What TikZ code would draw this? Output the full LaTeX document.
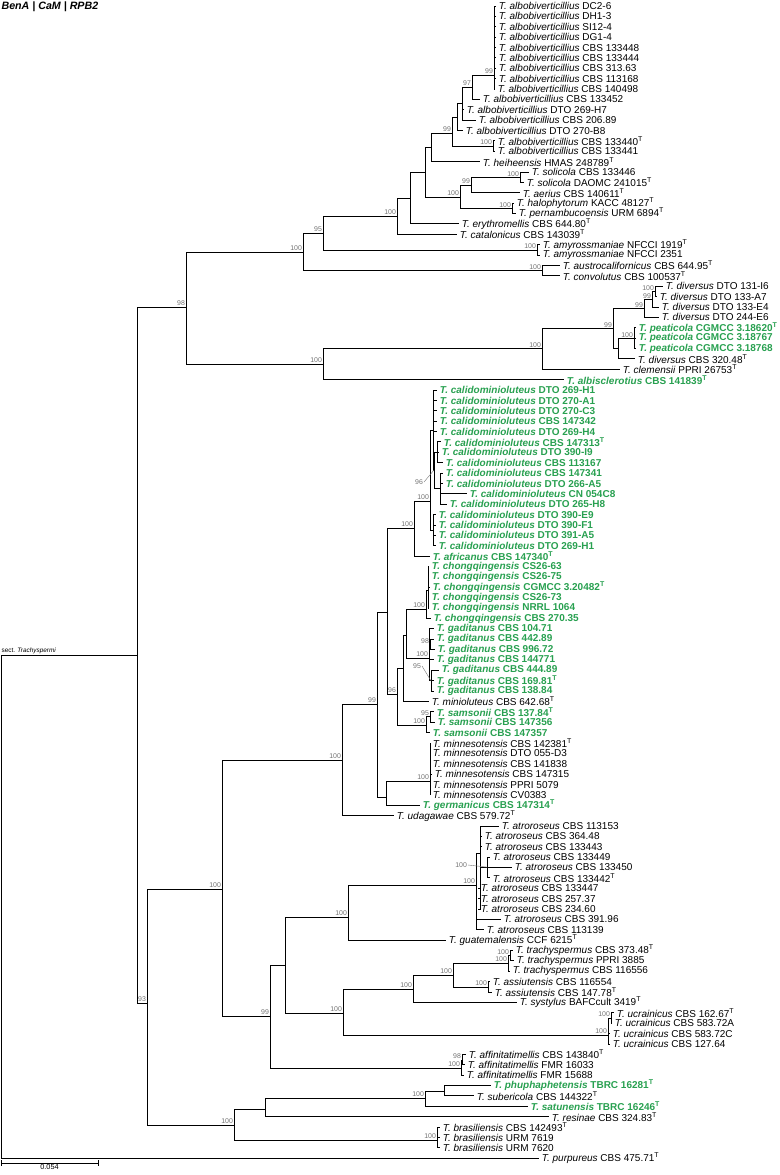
\documentclass[tikz,border=0pt]{standalone}
\usepackage{fontspec}
\setmainfont{Liberation Sans}
\usetikzlibrary{positioning,calc}
\definecolor{newgreen}{RGB}{40,160,80}
\definecolor{bsgray}{RGB}{115,115,115}
\newcommand{\tsp}[1]{\textit{T. #1}}
\newcommand{\nsp}[2]{\textcolor{newgreen}{\textbf{\textit{T. #1} #2}}}
\newcommand{\typ}{\textsuperscript{T}}
\newcommand{\clade}[2]{\foreach \c in {#2} \draw[br] (#1) |- (\c);}
\tikzset{
  br/.style={line width=0.75pt},
  leaf/.style={anchor=west, inner xsep=2pt, inner ysep=0pt, font=\fontsize{7.5}{8}\selectfont},
  bs/.style={anchor=south east, inner sep=0.6pt, text=bsgray, font=\fontsize{5.2}{6}\selectfont}
}

\begin{document}
\begin{tikzpicture}[x=0.75pt, y=-0.75pt]
    \useasboundingbox (0,0) rectangle (780,1175);
    \node[anchor=north west, inner sep=1pt, font=\bfseries\itshape\fontsize{8}{9}\selectfont] (title) at (0,0) {BenA | CaM | RPB2};
    % leaves
    \foreach \i/\tx/\lab in {
      1/496/{\tsp{albobiverticillius} DC2-6},
      2/496/{\tsp{albobiverticillius} DH1-3},
      3/496/{\tsp{albobiverticillius} SI12-4},
      4/496/{\tsp{albobiverticillius} DG1-4},
      5/496/{\tsp{albobiverticillius} CBS 133448},
      6/496/{\tsp{albobiverticillius} CBS 133444},
      7/496/{\tsp{albobiverticillius} CBS 313.63},
      8/496/{\tsp{albobiverticillius} CBS 113168},
      9/495/{\tsp{albobiverticillius} CBS 140498},
      10/480/{\tsp{albobiverticillius} CBS 133452},
      11/464/{\tsp{albobiverticillius} DTO 269-H7},
      12/476/{\tsp{albobiverticillius} CBS 206.89},
      13/463/{\tsp{albobiverticillius} DTO 270-B8},
      14/495/{\tsp{albobiverticillius} CBS 133440\typ},
      15/495/{\tsp{albobiverticillius} CBS 133441},
      16/480/{\tsp{heiheensis} HMAS 248789\typ},
      17/529/{\tsp{solicola} CBS 133446},
      18/524/{\tsp{solicola} DAOMC 241015\typ},
      19/520/{\tsp{aerius} CBS 140611\typ},
      20/514/{\tsp{halophytorum} KACC 48127\typ},
      21/516/{\tsp{pernambucoensis} URM 6894\typ},
      22/459/{\tsp{erythromellis} CBS 644.80\typ},
      23/457/{\tsp{catalonicus} CBS 143039\typ},
      24/540/{\tsp{amyrossmaniae} NFCCI 1919\typ},
      25/540/{\tsp{amyrossmaniae} NFCCI 2351},
      26/560/{\tsp{austrocalifornicus} CBS 644.95\typ},
      27/560/{\tsp{convolutus} CBS 100537\typ},
      28/663/{\tsp{diversus} DTO 131-I6},
      29/657/{\tsp{diversus} DTO 133-A7},
      30/659/{\tsp{diversus} DTO 133-E4},
      31/659/{\tsp{diversus} DTO 244-E6},
      32/636/{\nsp{peaticola}{CGMCC 3.18620\typ}},
      33/636/{\nsp{peaticola}{CGMCC 3.18767}},
      34/636/{\nsp{peaticola}{CGMCC 3.18768}},
      35/635/{\tsp{diversus} CBS 320.48\typ},
      36/620/{\tsp{clemensii} PPRI 26753\typ},
      37/564/{\nsp{albisclerotius}{CBS 141839\typ}},
      38/437/{\nsp{calidominioluteus}{DTO 269-H1}},
      39/437/{\nsp{calidominioluteus}{DTO 270-A1}},
      40/437/{\nsp{calidominioluteus}{DTO 270-C3}},
      41/437/{\nsp{calidominioluteus}{CBS 147342}},
      42/437/{\nsp{calidominioluteus}{DTO 269-H4}},
      43/441/{\nsp{calidominioluteus}{CBS 147313\typ}},
      44/439/{\nsp{calidominioluteus}{DTO 390-I9}},
      45/443/{\nsp{calidominioluteus}{CBS 113167}},
      46/443/{\nsp{calidominioluteus}{CBS 147341}},
      47/443/{\nsp{calidominioluteus}{DTO 266-A5}},
      48/467/{\nsp{calidominioluteus}{CN 054C8}},
      49/447/{\nsp{calidominioluteus}{DTO 265-H8}},
      50/436/{\nsp{calidominioluteus}{DTO 390-E9}},
      51/436/{\nsp{calidominioluteus}{DTO 390-F1}},
      52/436/{\nsp{calidominioluteus}{DTO 391-A5}},
      53/436/{\nsp{calidominioluteus}{DTO 269-H1}},
      54/430/{\nsp{africanus}{CBS 147340\typ}},
      55/429/{\nsp{chongqingensis}{CS26-63}},
      56/429/{\nsp{chongqingensis}{CS26-75}},
      57/430/{\nsp{chongqingensis}{CGMCC 3.20482\typ}},
      58/429/{\nsp{chongqingensis}{CS26-73}},
      59/429/{\nsp{chongqingensis}{NRRL 1064}},
      60/431/{\nsp{chongqingensis}{CBS 270.35}},
      61/434/{\nsp{gaditanus}{CBS 104.71}},
      62/434/{\nsp{gaditanus}{CBS 442.89}},
      63/435/{\nsp{gaditanus}{CBS 996.72}},
      64/434/{\nsp{gaditanus}{CBS 144771}},
      65/439/{\nsp{gaditanus}{CBS 444.89}},
      66/434/{\nsp{gaditanus}{CBS 169.81\typ}},
      67/434/{\nsp{gaditanus}{CBS 138.84}},
      68/429/{\tsp{minioluteus} CBS 642.68\typ},
      69/434/{\nsp{samsonii}{CBS 137.84\typ}},
      70/435/{\nsp{samsonii}{CBS 147356}},
      71/430/{\nsp{samsonii}{CBS 147357}},
      72/430/{\tsp{minnesotensis} CBS 142381\typ},
      73/430/{\tsp{minnesotensis} DTO 055-D3},
      74/430/{\tsp{minnesotensis} CBS 141838},
      75/432/{\tsp{minnesotensis} CBS 147315},
      76/430/{\tsp{minnesotensis} PPRI 5079},
      77/430/{\tsp{minnesotensis} CV0383},
      78/420/{\nsp{germanicus}{CBS 147314\typ}},
      79/394/{\tsp{udagawae} CBS 579.72\typ},
      80/499/{\tsp{atroroseus} CBS 113153},
      81/482/{\tsp{atroroseus} CBS 364.48},
      82/482/{\tsp{atroroseus} CBS 133443},
      83/490/{\tsp{atroroseus} CBS 133449},
      84/512/{\tsp{atroroseus} CBS 133450},
      85/490/{\tsp{atroroseus} CBS 133442\typ},
      86/478/{\tsp{atroroseus} CBS 133447},
      87/478/{\tsp{atroroseus} CBS 257.37},
      88/478/{\tsp{atroroseus} CBS 234.60},
      89/501/{\tsp{atroroseus} CBS 391.96},
      90/484/{\tsp{atroroseus} CBS 113139},
      91/446/{\tsp{guatemalensis} CCF 6215\typ},
      92/513/{\tsp{trachyspermus} CBS 373.48\typ},
      93/514/{\tsp{trachyspermus} PPRI 3885},
      94/510/{\tsp{trachyspermus} CBS 116556},
      95/490/{\tsp{assiutensis} CBS 116554},
      96/492/{\tsp{assiutensis} CBS 147.78\typ},
      97/517/{\tsp{systylus} BAFCcult 3419\typ},
      98/614/{\tsp{ucrainicus} CBS 162.67\typ},
      99/612/{\tsp{ucrainicus} CBS 583.72A},
      100/610/{\tsp{ucrainicus} CBS 583.72C},
      101/610/{\tsp{ucrainicus} CBS 127.64},
      102/466/{\tsp{affinitatimellis} CBS 143840\typ},
      103/465/{\tsp{affinitatimellis} FMR 16033},
      104/464/{\tsp{affinitatimellis} FMR 15688},
      105/491/{\nsp{phuphaphetensis}{TBRC 16281\typ}},
      106/474/{\tsp{subericola} CBS 144322\typ},
      107/528/{\nsp{satunensis}{TBRC 16246\typ}},
      108/549/{\tsp{resinae} CBS 324.83\typ},
      109/440/{\tsp{brasiliensis} CBS 142493\typ},
      110/440/{\tsp{brasiliensis} URM 7619},
      111/440/{\tsp{brasiliensis} URM 7620},
      112/539/{\tsp{purpureus} CBS 475.71\typ}}{
      \coordinate (L\i) at (\tx,{6+(\i-1)*10.38});
      \node[leaf] (t\i) at (L\i) {\lab};
    }
    % internal nodes, upper part
    \coordinate (a99) at (494,75);
    \coordinate (a97) at (472,87);
    \coordinate (aI) at (462,103);
    \coordinate (aG) at (457,117);
    \coordinate (aH) at (493,146);
    \coordinate (aF) at (452,133);
    \coordinate (aD) at (431,147);
    \coordinate (sK) at (520,177.3);
    \coordinate (sJ) at (471,185);
    \coordinate (sL) at (512,208.4);
    \coordinate (sE) at (460,197);
    \coordinate (aC) at (425,172);
    \coordinate (aB) at (410,198);
    \coordinate (aA) at (397,216);
    \coordinate (amy) at (537,250);
    \coordinate (aus) at (542,270.7);
    \coordinate (W) at (323,233);
    \coordinate (X) at (303,252);
    \coordinate (dv12) at (655,291.5);
    \coordinate (dv123) at (652,299.3);
    \coordinate (dv4) at (644,308.4);
    \coordinate (pea) at (634,338.2);
    \coordinate (pq) at (618,348.6);
    \coordinate (R) at (613,328.5);
    \coordinate (S) at (542,348.9);
    \coordinate (T) at (323,364);
    \coordinate (n98) at (186,307);
    % internal nodes, lower part
    \coordinate (c43) at (437,452.2);
    \coordinate (c46) at (440,488.6);
    \coordinate (c96) at (434,470);
    \coordinate (cTop) at (433,430);
    \coordinate (c50) at (433,530.2);
    \coordinate (cal) at (430,501);
    \coordinate (afr) at (414,528);
    \coordinate (chs) at (428,590);
    \coordinate (chq) at (426,609);
    \coordinate (g98) at (430,644.5);
    \coordinate (g95) at (431,680.8);
    \coordinate (gad) at (429,658);
    \coordinate (CG) at (406,635);
    \coordinate (M) at (403,668);
    \coordinate (s95) at (430,716.9);
    \coordinate (sam) at (426,725);
    \coordinate (N96) at (397,694);
    \coordinate (minn) at (430,781);
    \coordinate (O) at (386,797);
    \coordinate (Naf) at (387,612);
    \coordinate (P) at (377,704);
    \coordinate (Q) at (342,760);
    \coordinate (at100) at (487,867.1);
    \coordinate (atS) at (480,853);
    \coordinate (atro) at (476,885);
    \coordinate (AG) at (348,917);
    \coordinate (tr12) at (510,955.8);
    \coordinate (tr) at (508,963);
    \coordinate (as) at (488,987);
    \coordinate (TA) at (453,975);
    \coordinate (TAS) at (413,989);
    \coordinate (uk12) at (611,1018);
    \coordinate (uk) at (608,1035);
    \coordinate (TU) at (343,1013);
    \coordinate (AT) at (285,965);
    \coordinate (af12) at (462,1060);
    \coordinate (af) at (461,1068);
    \coordinate (N99) at (270,1016);
    \coordinate (N222) at (222,889);
    \coordinate (phs) at (444,1091);
    \coordinate (PS) at (425,1098);
    \coordinate (br) at (437,1140);
    \coordinate (PR) at (265,1109);
    \coordinate (BR2) at (234,1125);
    \coordinate (n93) at (147,1003);
    \coordinate (trach) at (137,655);
    \coordinate (root) at (1,907);
    % branches
    \clade{a99}{L1,L2,L3,L4,L5,L6,L7,L8,L9}
    \clade{a97}{a99,L10}
    \clade{aI}{a97,L11,L12}
    \clade{aG}{aI,L13}
    \clade{aH}{L14,L15}
    \clade{aF}{aG,aH}
    \clade{aD}{aF,L16}
    \clade{sK}{L17,L18}
    \clade{sJ}{sK,L19}
    \clade{sL}{L20,L21}
    \clade{sE}{sJ,sL}
    \clade{aC}{aD,sE}
    \clade{aB}{aC,L22}
    \clade{aA}{aB,L23}
    \clade{amy}{L24,L25}
    \clade{aus}{L26,L27}
    \clade{W}{aA,amy}
    \clade{X}{W,aus}
    \clade{dv12}{L28,L29}
    \clade{dv123}{dv12,L30}
    \clade{dv4}{dv123,L31}
    \clade{pea}{L32,L33,L34}
    \clade{pq}{pea,L35}
    \clade{R}{dv4,pq}
    \clade{S}{R,L36}
    \clade{T}{S,L37}
    \clade{n98}{X,T}
    \clade{c43}{L43,L44,L45}
    \clade{c46}{L46,L47,L48,L49}
    \clade{c96}{c43,c46}
    \clade{cTop}{L38,L39,L40,L41,L42,c96}
    \clade{c50}{L50,L51,L52,L53}
    \clade{cal}{cTop,c50}
    \clade{afr}{cal,L54}
    \clade{chs}{L55,L56,L57,L58,L59}
    \clade{chq}{chs,L60}
    \clade{g98}{L62,L63}
    \clade{g95}{L65,L66,L67}
    \clade{gad}{L61,g98,L64,g95}
    \clade{CG}{chq,gad}
    \clade{M}{CG,L68}
    \clade{s95}{L69,L70}
    \clade{sam}{s95,L71}
    \clade{N96}{M,sam}
    \clade{minn}{L72,L73,L74,L75,L76,L77}
    \clade{O}{minn,L78}
    \clade{Naf}{afr,N96}
    \clade{P}{Naf,O}
    \clade{Q}{P,L79}
    \clade{at100}{L83,L84,L85}
    \clade{atS}{L80,L81,L82,at100,L86,L87,L88}
    \clade{atro}{atS,L89,L90}
    \clade{AG}{atro,L91}
    \clade{tr12}{L92,L93}
    \clade{tr}{tr12,L94}
    \clade{as}{L95,L96}
    \clade{TA}{tr,as}
    \clade{TAS}{TA,L97}
    \clade{uk12}{L98,L99}
    \clade{uk}{uk12,L100,L101}
    \clade{TU}{TAS,uk}
    \clade{AT}{AG,TU}
    \clade{af12}{L102,L103}
    \clade{af}{af12,L104}
    \clade{N99}{AT,af}
    \clade{N222}{Q,N99}
    \clade{phs}{L105,L106}
    \clade{PS}{phs,L107}
    \clade{PR}{PS,L108}
    \clade{br}{L109,L110,L111}
    \clade{BR2}{PR,br}
    \clade{n93}{N222,BR2}
    \clade{trach}{n98,n93}
    \clade{root}{trach,L112}
    % support values
    \foreach \n/\v in {a99/99, a97/97, aF/99, aH/100, sK/100, sJ/99, sL/100, sE/100, aA/100,
      amy/100, aus/100, W/95, X/100, dv12/100, dv123/99, dv4/99, pea/100, R/99, S/100, T/100, n98/98,
      cal/100, afr/100, chq/100, g98/98, gad/100, s95/95, sam/100, N96/96, minn/100, P/99, Q/100,
      atro/100, AG/100, tr12/100, tr/100, as/100, TA/100, TAS/100, uk12/100, uk/100, TU/100,
      af12/98, af/100, PS/100, br/100, N99/99, N222/100, BR2/100, n93/93}{
      \node[bs] (b\n) at (\n) {\v};
    }
    \node[bs, anchor=east] (bc96) at (424,482) {96};
    \draw[line width=0.3pt, bsgray] (bc96.east) -- (c96);
    \node[bs, anchor=east] (bg95) at (422,666) {95};
    \draw[line width=0.3pt, bsgray] (bg95.east) -- (g95);
    \node[bs, anchor=east] (bat100) at (468,865) {100};
    \draw[line width=0.3pt, bsgray] (bat100.east) -- (at100);
    \node[anchor=south west, inner sep=1pt, font=\fontsize{4.8}{5}\selectfont] (sect) at (0,655) {sect. \textit{Trachyspermi}};
    % scale bar
    \coordinate (sb1) at (1,1163);
    \coordinate (sb2) at (98,1163);
    \draw[line width=0.6pt] (sb1) -- (sb2);
    \draw[line width=0.6pt] ([yshift=-2pt]sb1) -- ([yshift=2pt]sb1);
    \draw[line width=0.6pt] ([yshift=-2pt]sb2) -- ([yshift=2pt]sb2);
    \node[below=1pt of $(sb1)!0.5!(sb2)$, inner sep=0pt, font=\fontsize{5.5}{6}\selectfont] (sbl) {0.054};
\end{tikzpicture}
\end{document}
